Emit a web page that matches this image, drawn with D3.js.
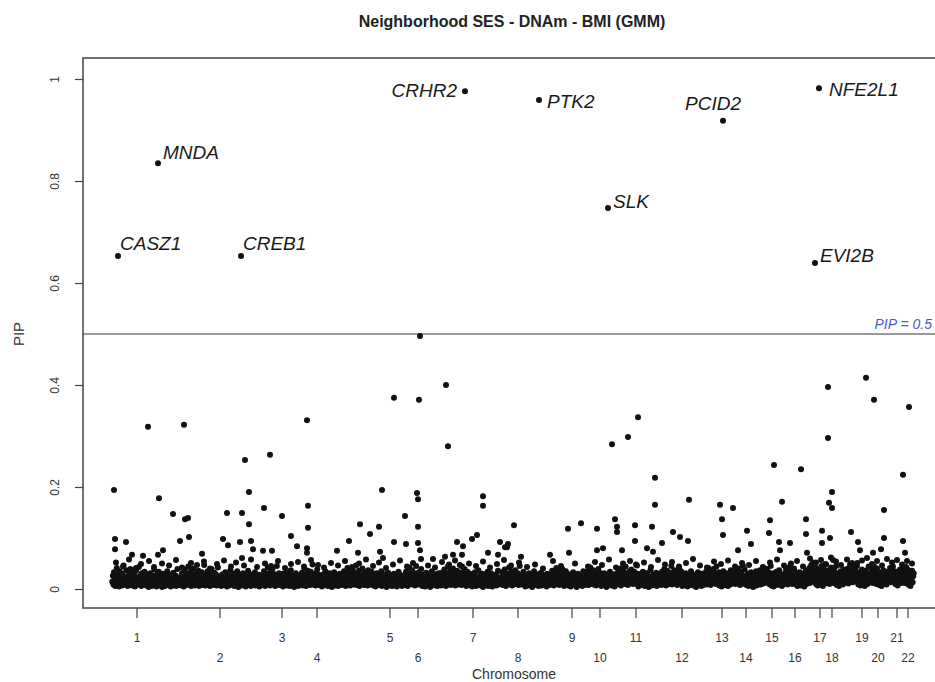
<!DOCTYPE html>
<html>
<head>
<meta charset="utf-8">
<script src="https://cdn.jsdelivr.net/npm/d3@7"></script>
<style>
  body { margin: 0; background: #fff; }
  svg { font-family: "Liberation Sans", Arial, sans-serif; }
</style>
</head>
<body>
<div id="my_dataviz"></div>
<script>
// chromosome labels and where their tick sits on the position axis
const chromosomes = ["1","2","3","4","5","6","7","8","9","10","11","12","13","14","15","16","17","18","19","20","21","22"];
const chrTicks = [54, 137, 199, 234, 307, 335, 390, 435, 489, 517, 553, 599, 639, 663, 689, 712, 737, 749, 779, 795, 814, 825];
// span of CpG positions covered by each chromosome
const chrStart = [29, 97, 179, 217, 259, 321, 357, 417, 467, 503, 533, 577, 621, 651, 675, 701, 725, 744, 763, 787, 805, 819];
const chrEnd   = [97, 179, 217, 259, 321, 357, 417, 467, 503, 533, 577, 621, 651, 675, 701, 725, 744, 763, 787, 805, 819, 831];

// low PIP values (x 1000), in position order inside each chromosome
const lowPip = [
  [14,26,9,33,18,6,22,12,41,8,28,17,5,35,11,20,15,7,30,13,46,19,9,24,10,37,16,6,21,12,29,8,39,14,23,7,18,32,11,27,5,19,36,13,9,22,15,43,10,26,18,6,31,12,25,9,16,34,20,11,
   7,19,28,11,4,24,15,31,9,21,6,17,26,13,38,8,22,16,5,29,12,20,34,10,18,7,25,14,4,30,11,23,17,6,27,9,19,35,13,8,21,15,28,5,12,24,18,7,32,10,20,14,26,6,16,39,11,22,8,17],
  [10,23,7,31,16,27,5,19,38,12,24,8,29,15,44,9,21,13,34,6,18,26,11,40,14,7,22,30,9,17,25,12,36,6,20,28,10,15,33,8,24,13,47,19,7,27,11,21,35,9,16,30,6,23,14,39,10,26,18,8,32,12,20,28,7,17,42,11,25,15,9,22,
   6,18,29,12,21,8,15,33,10,24,5,19,27,14,7,22,37,11,17,26,9,13,30,6,20,16,25,8,35,12,4,23,18,28,10,15,7,21,31,13,19,9,26,5,17,24,11,36,14,8,22,29,6,16,20,12,27,10,18,33,7,24,15,9,21,13,28,5,19,25,11,16],
  [13,27,8,35,17,6,24,11,30,15,42,9,20,26,7,33,12,18,38,10,23,14,29,6,21,16,45,9,25,12,31,8,19,27,
   8,19,30,5,22,14,26,10,17,33,7,21,12,28,16,6,24,37,11,19,9,27,15,4,20,13,31,8,23,18,6,26,11,16],
  [9,21,14,32,7,26,17,40,11,23,6,29,15,36,10,19,27,8,34,13,22,48,9,25,16,30,7,20,12,38,18,8,28,11,24,15,
   12,5,24,18,29,8,15,35,10,20,27,6,17,13,31,9,22,16,4,26,11,19,33,7,14,24,10,28,18,6,21,12,30,8,17,23],
  [16,28,8,35,12,22,6,30,18,41,10,25,14,33,7,20,27,11,38,15,9,24,31,13,46,8,19,29,12,36,6,22,17,27,10,40,14,23,8,32,16,11,26,20,7,37,13,29,9,24,18,34,12,21,
   7,20,13,26,5,18,31,10,23,15,8,28,12,19,35,6,16,24,11,21,9,29,14,4,25,17,32,10,20,7,27,13,18,6,23,15,30,9,12,26,19,5,22,14,34,8,17,28,11,21,6,24,16,10],
  [11,26,8,34,17,23,6,30,14,42,10,20,28,13,37,9,24,16,31,7,22,45,12,27,18,9,33,15,25,10,39,19,
   6,19,28,13,21,5,16,32,10,24,8,18,27,12,4,22,15,35,9,20,26,11,17,7,29,14,23,6,18,31,10,16],
  [12,24,7,32,17,28,9,38,14,21,6,30,19,44,11,25,15,35,8,22,27,13,40,10,18,31,7,24,16,36,12,29,9,20,47,14,26,8,33,18,11,23,39,13,28,6,21,34,15,25,10,30,
   8,18,29,5,21,14,26,10,33,16,6,23,12,19,37,9,15,27,7,20,13,30,4,24,17,11,28,8,22,15,34,6,19,25,12,9,31,17,5,23,14,20,10,28,16,7,26,13,36,9,21,18],
  [10,22,15,33,8,27,13,38,19,6,24,30,11,18,42,9,26,14,35,7,21,29,12,17,37,10,23,16,31,8,20,45,13,25,9,28,15,34,11,19,
   5,17,28,12,20,7,31,15,24,9,18,4,26,13,35,10,21,16,8,29,14,6,23,19,11,32,7,25,15,9,20,27,12,17,5,30,14,22,8,18],
  [14,28,9,36,18,25,7,32,12,21,41,10,27,16,34,8,23,19,30,11,39,15,24,6,29,13,35,17,22,10,
   7,20,13,29,5,17,24,10,33,15,21,8,26,12,4,19,30,11,16,23,9,27,14,6,20,35,12,18,8,25],
  [12,27,18,35,8,24,15,42,10,30,20,13,37,9,26,16,33,7,22,28,11,39,19,25,14,31,
   6,19,10,25,14,31,8,21,16,4,28,12,23,17,9,34,13,20,7,26,15,11,29,5,22,18],
  [9,24,15,33,11,28,18,40,7,22,30,13,36,17,25,10,44,20,14,31,8,27,19,35,12,23,38,16,29,10,21,34,13,26,48,18,11,30,
   5,17,29,12,21,8,26,14,34,10,19,6,23,15,31,9,27,13,4,20,16,37,11,24,7,18,28,12,22,9,15,32,6,25,19,10,29,14],
  [13,26,8,34,19,23,11,39,16,29,7,21,36,14,27,10,32,18,24,45,9,30,15,22,37,12,28,17,33,8,25,20,41,14,26,11,35,19,
   6,20,14,28,9,17,31,11,24,5,19,26,13,8,22,35,10,16,29,7,21,12,27,15,4,23,18,33,9,20,11,26,14,6,30,17,8,24],
  [11,25,17,34,9,28,20,41,13,23,31,8,36,16,27,12,39,19,24,30,10,44,15,29,21,33,
   7,19,13,29,5,22,16,35,10,26,8,18,31,12,24,6,20,14,28,9,37,17,11,23,15,27],
  [14,29,10,36,19,25,12,40,17,31,8,23,34,15,27,46,11,22,38,18,26,
   8,21,15,30,6,18,26,11,33,9,23,14,4,28,17,20,12,35,7,24,16],
  [12,27,18,37,9,24,31,15,42,11,28,20,35,13,26,39,16,22,33,10,30,19,45,
   7,20,14,31,5,22,16,27,10,34,8,18,25,12,37,9,21,15,29,6,24,17,11],
  [15,30,11,38,20,26,9,34,17,43,13,28,22,36,10,31,18,40,14,25,33,
   9,22,6,28,14,19,33,11,25,7,17,30,12,21,5,26,15,37,10,23,18],
  [16,32,24,41,12,36,28,47,19,38,22,52,14,34,27,44,18,30,
   10,25,18,33,7,29,21,40,13,27,9,35,20,45,15,31,6,24,38,17,28,11,49,22,36,14],
  [13,29,20,37,10,33,24,42,16,27,35,12,39,21,31,18,45,
   8,22,15,31,6,26,18,35,11,24,29,9,20,38,14,27,17],
  [15,31,22,40,11,35,27,48,18,33,25,43,13,37,29,20,41,16,34,24,51,19,
   9,24,17,33,7,28,20,38,12,26,14,31,6,22,36,18,29,10,25,44,15,21],
  [14,30,21,38,12,34,26,44,17,29,36,10,40,23,32,19,
   8,24,16,32,6,27,19,37,11,22,29,14,34,9,25,18],
  [16,33,24,41,13,29,37,20,44,27,35,18,
   10,26,17,34,7,23,30,14,38,20,12,28],
  [15,31,23,40,12,35,27,43,19,30,38,
   9,24,17,33,6,28,20,36,13,25,31]
];

// ragged top of the dense band: [position, PIP x 1000]
const bandTop = [
  [33,52],[40,44],[46,58],[53,41],[58,49],[66,55],[71,43],[79,50],[86,46],[93,57],[99,42],[108,51],[114,47],[121,54],[127,40],
  [134,49],[141,56],[148,44],[153,52],[161,46],[168,58],[174,43],[182,50],[188,45],[195,55],[202,41],[208,49],[215,53],[221,44],
  [228,57],[235,47],[241,42],[248,51],[255,46],[262,55],[269,43],[276,50],[283,58],[290,45],[296,52],[303,41],[310,48],[317,56],
  [324,44],[330,51],[338,59],[345,46],[352,42],[359,53],[366,48],[372,56],[379,44],[386,50],[393,45],[400,54],[407,42],[414,49],
  [421,57],[428,46],[436,52],[444,43],[452,48],[460,40],[470,55],[478,45],[492,50],[505,44],[512,53],[519,47],[526,58],[533,42],
  [540,50],[547,55],[554,46],[561,52],[568,43],[575,57],[582,48],[589,53],[596,44],[603,51],[610,59],[617,46],[624,42],[631,54],
  [638,49],[645,56],[652,44],[659,51],[666,47],[673,55],[680,43],[687,52],[694,58],[701,46],[708,50],[714,55],[720,44],[727,60],
  [733,52],[738,57],[743,48],[748,62],[753,54],[758,47],[764,58],[769,51],[774,45],[779,56],[784,61],[789,49],[794,55],[799,46],
  [804,59],[809,52],[814,57],[819,48],[824,55],[829,50]
];

// CpGs above the dense band: [position, PIP]
const otherPoints = [
  [337,0.496],[363,0.400],[311,0.375],[336,0.371],[365,0.280],[65,0.318],[101,0.322],[224,0.331],
  [162,0.253],[187,0.263],[31,0.194],[76,0.178],[166,0.190],[299,0.194],[334,0.188],[335,0.176],
  [400,0.182],[400,0.163],[225,0.163],[90,0.147],[102,0.137],[105,0.139],[144,0.149],[159,0.149],
  [181,0.159],[199,0.143],[166,0.127],[225,0.120],[208,0.104],[277,0.127],[296,0.122],[287,0.108],
  [322,0.143],[335,0.122],[394,0.106],[389,0.098],[32,0.098],[32,0.078],[43,0.092],[97,0.094],
  [106,0.102],[140,0.098],[145,0.086],[157,0.092],[168,0.094],[170,0.078],[180,0.075],[189,0.075],
  [214,0.084],[224,0.080],[224,0.071],[254,0.075],[266,0.094],[275,0.071],[297,0.073],[300,0.061],
  [311,0.092],[323,0.088],[335,0.090],[337,0.076],[374,0.092],[380,0.084],[417,0.092],[424,0.082],
  [49,0.067],[60,0.065],[75,0.067],[80,0.076],[119,0.069],[159,0.061],[350,0.059],[362,0.063],
  [370,0.067],[379,0.067],[405,0.071],[415,0.067],
  [783,0.414],[745,0.396],[791,0.371],[826,0.357],[555,0.337],[545,0.298],[529,0.284],[745,0.296],
  [691,0.243],[718,0.235],[820,0.224],[572,0.218],[749,0.190],[746,0.169],[749,0.159],[606,0.175],
  [572,0.165],[699,0.171],[637,0.165],[650,0.159],[639,0.137],[801,0.155],[431,0.125],[485,0.118],
  [498,0.129],[514,0.118],[532,0.137],[534,0.122],[534,0.112],[552,0.125],[552,0.094],[569,0.122],
  [590,0.112],[597,0.102],[605,0.094],[640,0.106],[664,0.114],[668,0.088],[687,0.135],[686,0.110],
  [696,0.092],[707,0.090],[723,0.137],[723,0.108],[739,0.114],[739,0.090],[747,0.100],[768,0.112],
  [775,0.092],[801,0.100],[798,0.078],[820,0.094],[822,0.071],[422,0.082],[425,0.088],[438,0.063],
  [467,0.067],[486,0.071],[514,0.076],[520,0.080],[539,0.076],[564,0.080],[570,0.073],[579,0.090],
  [655,0.076],[697,0.076],[724,0.071],[750,0.057],[777,0.076],[790,0.071]
];

// genes with PIP above the threshold
const genes   = ["CASZ1","MNDA","CREB1","CRHR2","PTK2","SLK","PCID2","EVI2B","NFE2L1"];
const genePos = [35, 75, 158, 382, 456, 525, 640, 732, 736];
const genePip = [0.653, 0.835, 0.653, 0.976, 0.959, 0.747, 0.918, 0.639, 0.982];
const yTicks = [0, 0.2, 0.4, 0.6, 0.8, 1];
const threshold = 0.5;

// label offsets from their point
const labelPlace = {
  CASZ1: {dx: 2, dy: -6, anchor: "start"},
  MNDA: {dx: 5, dy: -4, anchor: "start"},
  CREB1: {dx: 2, dy: -6, anchor: "start"},
  CRHR2: {dx: -8, dy: 6, anchor: "end"},
  PTK2: {dx: 8, dy: 8, anchor: "start"},
  SLK: {dx: 5, dy: 0, anchor: "start"},
  PCID2: {dx: -10, dy: -11, anchor: "middle"},
  EVI2B: {dx: 5, dy: -1, anchor: "start"},
  NFE2L1: {dx: 10, dy: 8, anchor: "start"}
};

const W = 935, H = 682;
const box = {left: 83, right: 943, top: 58, bottom: 608};

const svg = d3.select("#my_dataviz")
  .append("svg")
    .attr("width", W)
    .attr("height", H);

const x = d3.scaleLinear().domain([0, 860]).range([box.left, box.right]);
const y = d3.scaleLinear().domain([0, 1]).range([589, 79]);

// build the point table
const points = [];
lowPip.forEach(function (vals, c) {
  const step = (chrEnd[c] - chrStart[c]) / vals.length;
  vals.forEach(function (v, i) {
    points.push({pos: chrStart[c] + step * (i + 0.5), pip: v / 1000});
  });
});
bandTop.forEach(d => points.push({pos: d[0], pip: d[1] / 1000}));
otherPoints.forEach(d => points.push({pos: d[0], pip: d[1]}));
genes.forEach((g, i) => points.push({pos: genePos[i], pip: genePip[i]}));

// title
svg.append("text")
  .attr("x", 512).attr("y", 27)
  .attr("text-anchor", "middle")
  .style("font-size", "16px").style("font-weight", "bold")
  .attr("fill", "#222")
  .text("Neighborhood SES - DNAm - BMI (GMM)");

// threshold line
svg.append("line")
  .attr("x1", box.left).attr("x2", box.right)
  .attr("y1", y(threshold)).attr("y2", y(threshold))
  .attr("stroke", "#9a9a9a").attr("stroke-width", 2);

svg.append("text")
  .attr("x", 932).attr("y", y(threshold) - 5)
  .attr("text-anchor", "end")
  .style("font-size", "14px").style("font-style", "italic")
  .attr("fill", "#4a5bd0")
  .text("PIP = 0.5");

// points
svg.append("g")
  .selectAll("circle")
  .data(points)
  .join("circle")
    .attr("cx", d => x(d.pos))
    .attr("cy", d => y(d.pip))
    .attr("r", 3)
    .attr("fill", "#111");

// gene labels
svg.append("g")
  .selectAll("text")
  .data(genes)
  .join("text")
    .attr("x", (g, i) => x(genePos[i]) + labelPlace[g].dx)
    .attr("y", (g, i) => y(genePip[i]) + labelPlace[g].dy)
    .attr("text-anchor", g => labelPlace[g].anchor)
    .style("font-size", "19px").style("font-style", "italic")
    .attr("fill", "#1a1a1a")
    .text(g => g);

// box round the plot
svg.append("rect")
  .attr("x", box.left).attr("y", box.top)
  .attr("width", box.right - box.left).attr("height", box.bottom - box.top)
  .attr("fill", "none").attr("stroke", "#444").attr("stroke-width", 1.5);

// y axis
const yAxis = svg.append("g")
  .attr("transform", `translate(${box.left},0)`)
  .call(d3.axisLeft(y).tickValues(yTicks).tickSize(8).tickFormat(d => d === 0 ? "0" : d === 1 ? "1" : d3.format(".1f")(d)));
yAxis.select(".domain").remove();
yAxis.selectAll("line").attr("stroke", "#444").attr("stroke-width", 1.2);
yAxis.selectAll("text")
  .attr("x", null).attr("dy", null)
  .attr("transform", "translate(-24,0) rotate(-90)")
  .attr("text-anchor", "middle")
  .attr("fill", "#333")
  .style("font-size", "12px");

// x axis: chromosome ticks, labels on two rows
const xAxis = svg.append("g");
xAxis.selectAll("line")
  .data(chrTicks)
  .join("line")
    .attr("x1", d => x(d)).attr("x2", d => x(d))
    .attr("y1", box.bottom).attr("y2", box.bottom + 10)
    .attr("stroke", "#444").attr("stroke-width", 1.2);
xAxis.selectAll("text")
  .data(chromosomes)
  .join("text")
    .attr("x", (c, i) => x(chrTicks[i]))
    .attr("y", (c, i) => i % 2 === 0 ? 642 : 662)
    .attr("text-anchor", "middle")
    .style("font-size", "12px")
    .attr("fill", "#333")
    .text(c => c);

// axis titles
svg.append("text")
  .attr("x", 514).attr("y", 679)
  .attr("text-anchor", "middle")
  .style("font-size", "14px").attr("fill", "#333")
  .text("Chromosome");

svg.append("text")
  .attr("transform", `translate(24,${y(threshold)}) rotate(-90)`)
  .attr("text-anchor", "middle")
  .style("font-size", "15px").attr("fill", "#333")
  .text("PIP");
</script>
</body>
</html>
